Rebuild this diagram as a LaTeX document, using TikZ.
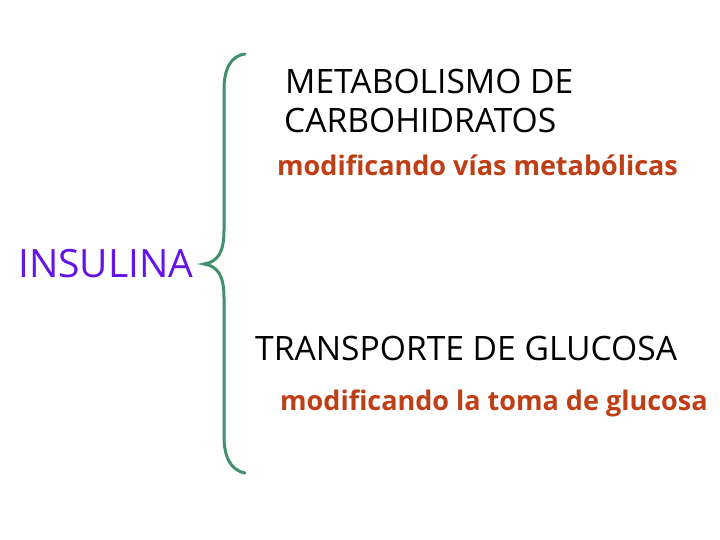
\documentclass[tikz,border=0pt]{standalone}
\usepackage{fontspec}
\setmainfont{Open Sans}
\definecolor{bracegreen}{RGB}{64,145,108}
\definecolor{rusttext}{RGB}{190,62,22}
\definecolor{insviolet}{RGB}{100,20,230}
\tikzset{
  heading/.style={anchor=base west, inner sep=0pt, font=\fontsize{33.6}{40}\selectfont, text=black, align=left},
  subline/.style={anchor=base west, inner sep=0pt, font=\fontsize{27}{32}\selectfont\bfseries, text=rusttext},
}
\begin{document}
\begin{tikzpicture}[x=1pt,y=-1pt]
\useasboundingbox[fill=white] (0,0) rectangle (720,540);
\draw[bracegreen, line width=3pt, line cap=round]
  (245,54) .. controls (230,56) and (224,70) .. (224,90)
  -- (224,230) .. controls (224,252) and (218,262) .. (204,264)
  .. controls (218,266) and (224,276) .. (224,298)
  -- (224,436) .. controls (224,456) and (230,470) .. (245,473);
\node[heading] (meta) at (285,94) {METABOLISMO DE};
\node[heading] (carb) at (284,133) {CARBOHIDRATOS};
\node[subline] (vias) at (277,176) {modificando vías metabólicas};
\node[anchor=base west, inner sep=0pt, font=\fontsize{39}{46}\selectfont, text=insviolet] (ins) at (18,277) {INSULINA};
\node[heading] (trans) at (255,360) {TRANSPORTE DE GLUCOSA};
\node[subline] (toma) at (280,410) {modificando la toma de glucosa};
\end{tikzpicture}
\end{document}
